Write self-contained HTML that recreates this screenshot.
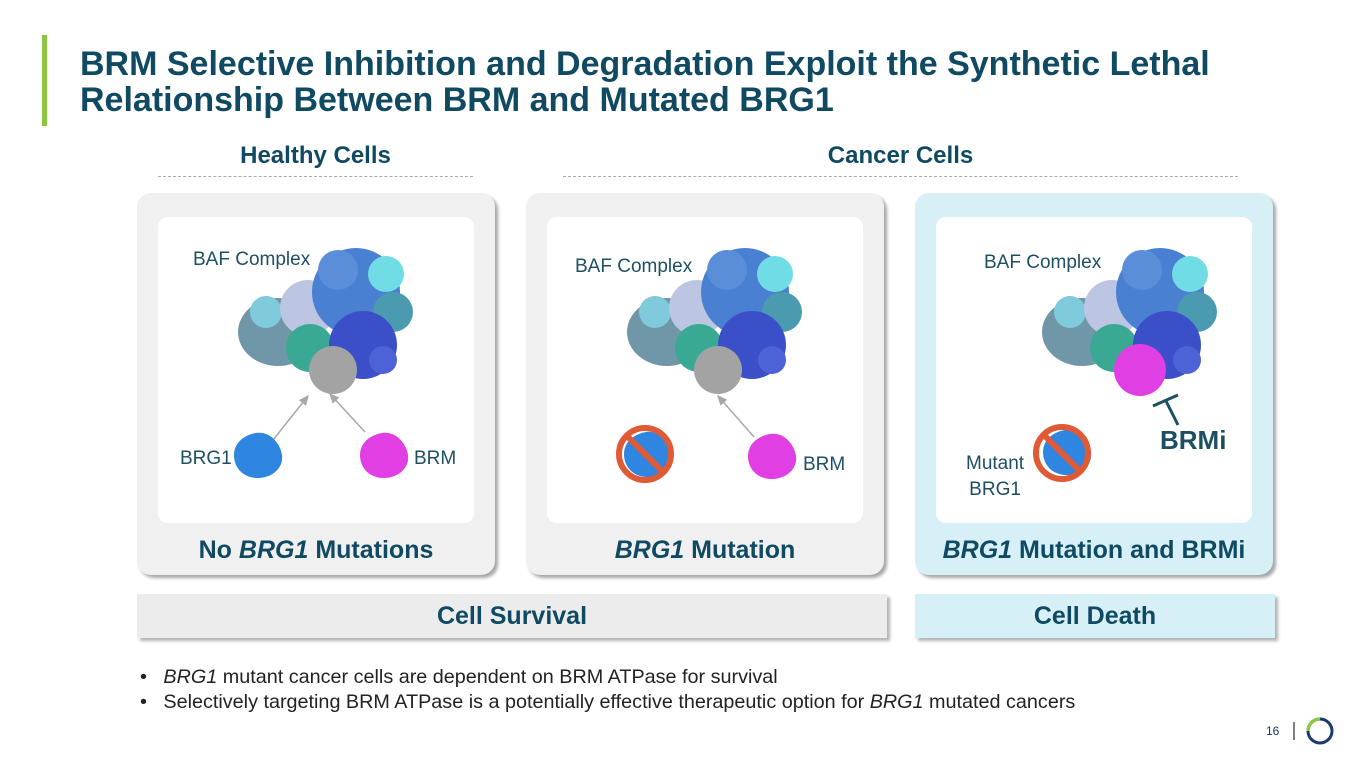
<!DOCTYPE html>
<html><head><meta charset="utf-8"><style>
body{margin:0;width:1365px;height:768px;background:#fff;position:relative;overflow:hidden;font-family:"Liberation Sans",Arial,sans-serif;color:#0f4a62}
.abs{position:absolute}
h1{position:absolute;left:80px;top:46px;margin:0;font-size:34px;line-height:36px;font-weight:bold;color:#0f4a62;white-space:nowrap}
.hdr{font-size:24px;font-weight:bold;text-align:center}
.panel{position:absolute;top:193px;width:358px;height:382px;border-radius:14px;background:#f0f0f0;box-shadow:3px 3px 3px rgba(0,0,0,.35)}
.inner{position:absolute;left:21px;top:24px;width:316px;height:306px;background:#fff;border-radius:10px}
.cap{position:absolute;left:0;width:100%;top:343px;text-align:center;font-size:25px;font-weight:bold}
.bar{position:absolute;top:594px;height:44px;font-size:25px;font-weight:bold;text-align:center;line-height:44px;box-shadow:3px 3px 3px rgba(0,0,0,.3)}
.lbl{font-size:19px;color:#1d4f63}
</style></head><body>
<div class="abs" style="left:42px;top:35px;width:5px;height:91px;background:#8cc63f"></div>
<h1>BRM Selective Inhibition and Degradation Exploit the Synthetic Lethal<br>Relationship Between BRM and Mutated BRG1</h1>
<div class="abs hdr" style="left:158px;width:315px;top:142px">Healthy Cells</div>
<div class="abs" style="left:158px;width:315px;top:176px;border-top:1px dashed #aaa"></div>
<div class="abs hdr" style="left:563px;width:675px;top:142px">Cancer Cells</div>
<div class="abs" style="left:563px;width:675px;top:176px;border-top:1px dashed #aaa"></div>

<div class="panel" style="left:137px"><div class="inner"></div><div class="cap">No <i>BRG1</i> Mutations</div></div>
<div class="panel" style="left:526px"><div class="inner"></div><div class="cap"><i>BRG1</i> Mutation</div></div>
<div class="panel" style="left:915px;background:#d7eff7"><div class="inner"></div><div class="cap"><i>BRG1</i> Mutation and BRMi</div></div>

<svg class="abs" style="left:0;top:0" width="1365" height="768">
<defs>
<g id="cx">
<ellipse cx="40" cy="82" rx="40" ry="34" fill="#7097a8"/>
<circle cx="28" cy="62" r="16" fill="#7fcadb"/>
<circle cx="70" cy="58" r="28" fill="#bcc6e2"/>
<circle cx="72" cy="98" r="24" fill="#3aa994"/>
<circle cx="118" cy="42" r="44" fill="#4a80d2"/>
<circle cx="100" cy="20" r="20" fill="#5b8ed8"/>
<circle cx="148" cy="24" r="18" fill="#70dde6"/>
<circle cx="155" cy="62" r="20" fill="#4b9bb0"/>
<circle cx="125" cy="95" r="34" fill="#3b4fc8"/>
<circle cx="145" cy="110" r="14" fill="#4d62d6"/>
</g>
<g id="blob"><path d="M0,-22 C14,-24 24,-12 26,0 C28,14 14,24 0,23 C-14,22 -22,12 -22,0 C-22,-12 -12,-20 0,-22Z"/></g>
<marker id="ar" markerWidth="8" markerHeight="8" refX="6" refY="3" orient="auto"><path d="M0,0 L7,3 L0,6Z" fill="#a8a8a8"/></marker>
</defs>
<use href="#cx" x="238" y="250"/>
<circle cx="333" cy="370" r="24" fill="#a3a3a3"/>
<line x1="273" y1="440" x2="308" y2="396" stroke="#a8a8a8" stroke-width="1.5" marker-end="url(#ar)"/>
<line x1="365" y1="432" x2="330" y2="394" stroke="#a8a8a8" stroke-width="1.5" marker-end="url(#ar)"/>
<use href="#blob" x="256" y="455" fill="#2f86e0"/>
<use href="#blob" x="382" y="455" fill="#e03fe3"/>
<use href="#cx" x="627" y="250"/>
<circle cx="718" cy="370" r="24" fill="#a3a3a3"/>
<line x1="754" y1="437" x2="718" y2="396" stroke="#a8a8a8" stroke-width="1.5" marker-end="url(#ar)"/>
<use href="#blob" x="646" y="454" fill="#2f86e0"/>
<circle cx="645" cy="454" r="26" fill="none" stroke="#e05a35" stroke-width="6"/>
<line x1="627" y1="436" x2="663" y2="472" stroke="#e05a35" stroke-width="6"/>
<use href="#blob" x="770" y="456" fill="#e03fe3"/>
<use href="#cx" x="1042" y="250"/>
<circle cx="1140" cy="370" r="26" fill="#e03fe3"/>
<line x1="1153" y1="406" x2="1178" y2="395" stroke="#1d4f63" stroke-width="3"/>
<line x1="1166" y1="401" x2="1178" y2="425" stroke="#1d4f63" stroke-width="3"/>
<use href="#blob" x="1065" y="452" fill="#2f86e0"/>
<circle cx="1062" cy="453" r="26" fill="none" stroke="#e05a35" stroke-width="6"/>
<line x1="1044" y1="435" x2="1080" y2="471" stroke="#e05a35" stroke-width="6"/>
<line x1="1294" y1="722" x2="1294" y2="740" stroke="#555" stroke-width="1.5"/>
<circle cx="1320" cy="731" r="12" fill="none" stroke="#1a3a6b" stroke-width="3"/>
<path d="M1308,731 A12,12 0 0 1 1320,719" fill="none" stroke="#8cc63f" stroke-width="3.2"/>
</svg>

<div class="abs lbl" style="left:193px;top:249px">BAF Complex</div>
<div class="abs lbl" style="left:180px;top:448px">BRG1</div>
<div class="abs lbl" style="left:414px;top:448px">BRM</div>
<div class="abs lbl" style="left:575px;top:256px">BAF Complex</div>
<div class="abs lbl" style="left:803px;top:454px">BRM</div>
<div class="abs lbl" style="left:984px;top:252px">BAF Complex</div>
<div class="abs lbl" style="left:966px;top:451px;line-height:26px;text-align:center">Mutant<br>BRG1</div>
<div class="abs" style="left:1160px;top:425px;font-size:26px;font-weight:bold;color:#1d4f63">BRMi</div>

<div class="bar" style="left:137px;width:750px;background:#ececec">Cell Survival</div>
<div class="bar" style="left:915px;width:360px;background:#d7eff7">Cell Death</div>

<div class="abs" style="left:140px;top:665px;font-size:19.8px;line-height:25px;color:#222;white-space:nowrap">
<div>•&nbsp;&nbsp;&nbsp;<i>BRG1</i> mutant cancer cells are dependent on BRM ATPase for survival</div>
<div>•&nbsp;&nbsp;&nbsp;Selectively targeting BRM ATPase is a potentially effective therapeutic option for <i>BRG1</i> mutated cancers</div>
</div>
<div class="abs" style="left:1266px;top:724px;font-size:12px;color:#1a3a6b">16</div>
</body></html>
